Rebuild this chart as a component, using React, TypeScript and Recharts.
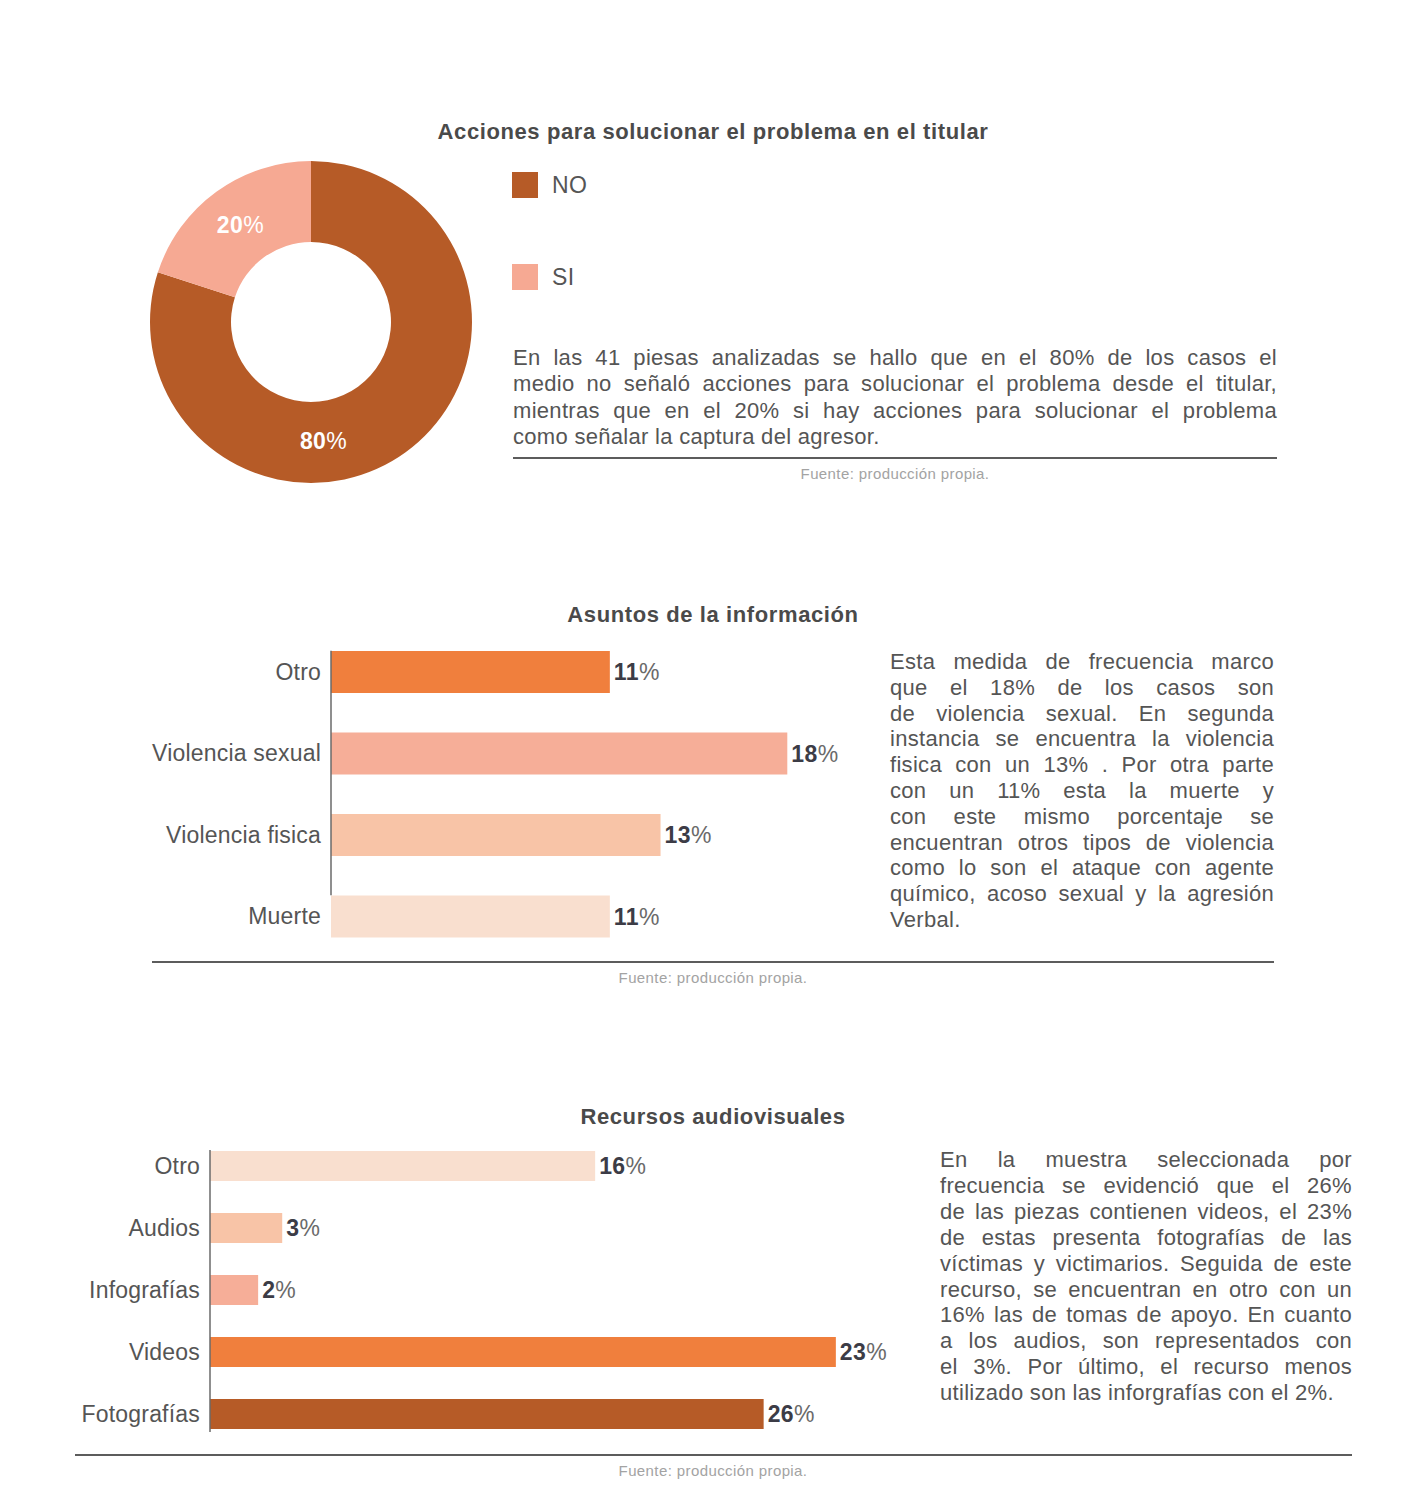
import { PieChart, Pie, Cell, Legend, BarChart, Bar, XAxis, YAxis, LabelList, ReferenceLine } from "recharts";

const FONT = '"Liberation Sans", Arial, Helvetica, sans-serif';
const TEXT = "#555555";

// Acciones para solucionar el problema en el titular
const accionesCategorias = ["NO", "SI"];
const accionesValores = [80, 20];
const accionesColores = ["#B65B27", "#F6A993"];

// Asuntos de la información
const asuntosCategorias = ["Otro", "Violencia sexual", "Violencia fisica", "Muerte"];
const asuntosValores = [11, 18, 13, 11];
const asuntosColores = ["#F07F3D", "#F6AE98", "#F8C4A7", "#F9DFCF"];

// Recursos audiovisuales (las etiquetas impresas de Videos / Fotografías están cruzadas respecto al largo de las barras)
const recursosCategorias = ["Otro", "Audios", "Infografías", "Videos", "Fotografías"];
const recursosValores = [16, 3, 2, 26, 23];
const recursosEtiquetas = ["16%", "3%", "2%", "23%", "26%"];
const recursosColores = ["#F9DFCF", "#F8C4A7", "#F6AE98", "#F07F3D", "#B65B27"];

const texto1 = [
  "En las 41 piesas analizadas se hallo que en el 80%  de los casos el",
  "medio no señaló acciones para solucionar el problema desde el titular,",
  "mientras que en el 20% si hay acciones para solucionar el problema",
  "como señalar la captura del agresor.",
];
const texto2 = [
  "Esta medida de frecuencia marco",
  "que el 18% de los casos son",
  "de violencia sexual.  En segunda",
  "instancia  se encuentra la violencia",
  "fisica con un 13% . Por otra parte",
  "con un 11% esta la muerte y",
  "con este mismo porcentaje se",
  "encuentran otros tipos de violencia",
  "como lo son el ataque con agente",
  "químico, acoso sexual y la agresión",
  "Verbal.",
];
const texto3 = [
  "En la muestra seleccionada por",
  "frecuencia se evidenció que el 26%",
  "de las piezas contienen videos, el 23%",
  "de estas presenta fotografías de las",
  "víctimas y victimarios. Seguida de este",
  "recurso, se encuentran en otro con un",
  "16% las de tomas de apoyo. En cuanto",
  "a los audios, son representados con",
  "el 3%.  Por último, el recurso menos",
  "utilizado son las inforgrafías con el 2%.",
];

const accionesData = accionesCategorias.map((name, i) => ({ name, value: accionesValores[i] }));
const asuntosData = asuntosCategorias.map((name, i) => ({ name, value: asuntosValores[i], etiqueta: `${asuntosValores[i]}%` }));
const recursosData = recursosCategorias.map((name, i) => ({ name, value: recursosValores[i], etiqueta: recursosEtiquetas[i] }));

const RADIAN = Math.PI / 180;

const PieLabel = (p: any) => {
  // the 80% label sits lower on the ring than the slice middle
  const angle = p.index === 0 ? p.midAngle - 30 : p.midAngle;
  const r = 120;
  const x = p.cx + r * Math.cos(-angle * RADIAN);
  const y = p.cy + r * Math.sin(-angle * RADIAN);
  return (
    <text x={x} y={y} textAnchor="middle" dominantBaseline="central" fill="#fff" fontSize={23} fontWeight={700} fontFamily={FONT} letterSpacing={0.4}>
      {p.value}
      <tspan fontWeight={400}>%</tspan>
    </text>
  );
};

const ValueLabel = (p: any) => {
  const num = String(p.value).replace("%", "");
  return (
    <text x={p.x + p.width + 4} y={p.y + p.height / 2} dominantBaseline="central" fontSize={23} letterSpacing={0.4} fontFamily={FONT} fill="#3c3c46">
      <tspan fontWeight={700}>{num}</tspan>
      <tspan fill="#6a6a6a">%</tspan>
    </text>
  );
};

const AccionesLegend = () => (
  <div style={{ fontFamily: FONT }}>
    {accionesCategorias.map((c, i) => (
      <div key={c} style={{ display: "flex", alignItems: "center", height: 26, marginBottom: 66 }}>
        <span style={{ width: 26, height: 26, background: accionesColores[i], display: "inline-block" }} />
        <span style={{ marginLeft: 14, fontSize: 23, letterSpacing: 0.4, color: TEXT }}>{c}</span>
      </div>
    ))}
  </div>
);

function Parrafo({ lines, left, top, width, lineHeight }: { lines: string[]; left: number; top: number; width: number; lineHeight: number }) {
  return (
    <div style={{ position: "absolute", left, top, width, fontSize: 22, letterSpacing: 0.3, lineHeight: `${lineHeight}px`, color: TEXT, fontFamily: FONT }}>
      {lines.map((l, i) => (
        <div key={i} style={{ textAlign: "justify", textAlignLast: i === lines.length - 1 ? "left" : "justify", whiteSpace: "nowrap" }}>
          {l}
        </div>
      ))}
    </div>
  );
}

function Titulo({ children, top }: { children: string; top: number }) {
  return (
    <div style={{ position: "absolute", left: 0, width: 1426, top, textAlign: "center", fontSize: 22, letterSpacing: 0.6, fontWeight: 700, color: "#4a4a4a", fontFamily: FONT }}>
      {children}
    </div>
  );
}

function Fuente({ left, width, top }: { left: number; width: number; top: number }) {
  return (
    <div style={{ position: "absolute", left, width, top, textAlign: "center", fontSize: 15, letterSpacing: 0.4, color: "#a3a3a3", fontFamily: FONT }}>
      Fuente: producción propia.
    </div>
  );
}

function Linea({ left, width, top }: { left: number; width: number; top: number }) {
  return <div style={{ position: "absolute", left, width, top, height: 2, background: "#5c5c5c" }} />;
}

const tickStyle = { fontSize: 23, fill: TEXT, fontFamily: FONT, letterSpacing: 0.2 };

export default function App() {
  return (
    <div style={{ position: "absolute", left: 0, top: 0, width: 1402, height: 1512, background: "#fff", fontFamily: FONT }}>
      <Titulo top={119}>Acciones para solucionar el problema en el titular</Titulo>

      <div style={{ position: "absolute", left: 141, top: 152 }}>
        <PieChart width={560} height={340} margin={{ top: 0, right: 0, bottom: 0, left: 0 }}>
          <Pie
            data={accionesData}
            dataKey="value"
            nameKey="name"
            cx={170}
            cy={170}
            innerRadius={80}
            outerRadius={161}
            startAngle={90}
            endAngle={-270}
            stroke="none"
            label={PieLabel}
            labelLine={false}
            isAnimationActive={false}
          >
            {accionesData.map((d, i) => (
              <Cell key={d.name} fill={accionesColores[i]} />
            ))}
          </Pie>
          <Legend content={AccionesLegend} wrapperStyle={{ left: 371, top: 20, width: 180 }} />
        </PieChart>
      </div>

      <Parrafo lines={texto1} left={513} top={345} width={764} lineHeight={26.3} />
      <Linea left={513} width={764} top={457} />
      <Fuente left={513} width={764} top={465} />

      <Titulo top={602}>Asuntos de la información</Titulo>

      <div style={{ position: "absolute", left: 140, top: 600 }}>
        <BarChart width={738} height={367} data={asuntosData} layout="vertical" margin={{ top: 31, right: 40, bottom: 10, left: 0 }}>
          <XAxis type="number" domain={[0, 20]} hide />
          <YAxis type="category" dataKey="name" width={191} axisLine={false} tickLine={false} tickSize={0} tickMargin={10} tick={tickStyle} />
          <ReferenceLine
            segment={[{ x: 0, y: asuntosCategorias[0] }, { x: 0, y: asuntosCategorias[asuntosCategorias.length - 1] }]}
            ifOverflow="visible"
            shape={(p: any) => (
              <line x1={p.x1} y1={Math.min(p.y1, p.y2) - 21} x2={p.x2} y2={Math.max(p.y1, p.y2) - 21} stroke="#6a6a6a" strokeWidth={1.5} />
            )}
          />
          <Bar dataKey="value" barSize={42} isAnimationActive={false}>
            {asuntosData.map((d, i) => (
              <Cell key={d.name} fill={asuntosColores[i]} />
            ))}
            <LabelList dataKey="etiqueta" content={ValueLabel} />
          </Bar>
        </BarChart>
      </div>

      <Parrafo lines={texto2} left={890} top={649} width={384} lineHeight={25.8} />
      <Linea left={152} width={1122} top={961} />
      <Fuente left={0} width={1426} top={969} />

      <Titulo top={1104}>Recursos audiovisuales</Titulo>

      <div style={{ position: "absolute", left: 60, top: 1120 }}>
        <BarChart width={864} height={335} data={recursosData} layout="vertical" margin={{ top: 15, right: 40, bottom: 10, left: 0 }}>
          <XAxis type="number" domain={[0, 28]} hide />
          <YAxis type="category" dataKey="name" width={150} axisLine={false} tickLine={false} tickSize={0} tickMargin={10} tick={tickStyle} />
          <ReferenceLine
            segment={[{ x: 0, y: recursosCategorias[0] }, { x: 0, y: recursosCategorias[recursosCategorias.length - 1] }]}
            ifOverflow="visible"
            shape={(p: any) => (
              <line x1={p.x1} y1={Math.min(p.y1, p.y2) - 16} x2={p.x2} y2={Math.max(p.y1, p.y2) + 18} stroke="#6a6a6a" strokeWidth={1.5} />
            )}
          />
          <Bar dataKey="value" barSize={30} isAnimationActive={false}>
            {recursosData.map((d, i) => (
              <Cell key={d.name} fill={recursosColores[i]} />
            ))}
            <LabelList dataKey="etiqueta" content={ValueLabel} />
          </Bar>
        </BarChart>
      </div>

      <Parrafo lines={texto3} left={940} top={1147} width={412} lineHeight={25.9} />
      <Linea left={75} width={1277} top={1454} />
      <Fuente left={0} width={1426} top={1462} />
    </div>
  );
}
